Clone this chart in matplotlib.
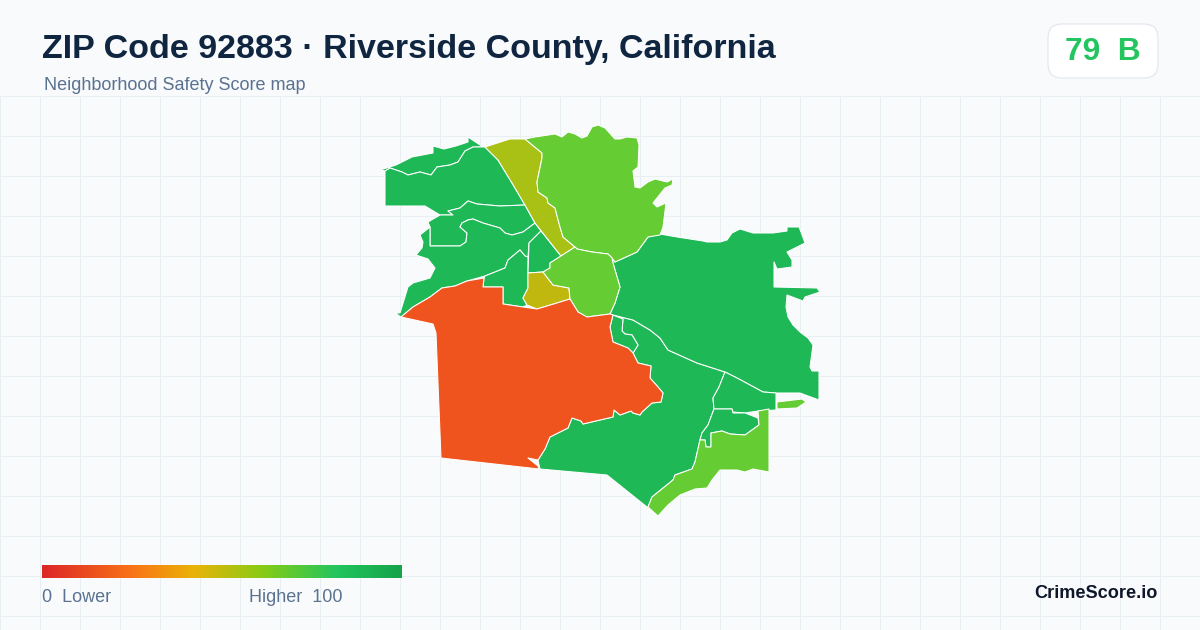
import numpy as np
import matplotlib
matplotlib.use("Agg")
import matplotlib.pyplot as plt
from matplotlib.colors import LinearSegmentedColormap
from matplotlib.patches import FancyBboxPatch

plt.rcParams['font.family'] = ['Liberation Sans', 'DejaVu Sans']

title = "ZIP Code 92883 · Riverside County, California"
subtitle = "Neighborhood Safety Score map"
score_label = "79  B"

# neighbourhood outlines
north_strip = [(380,170),(396,165),(412,157),(433,153),(433,146),(444,149),(456,146),(468,142),(468,137),(483,147),(473,147),(465,151),(458,162),(450,165),(437,167),(431,175),(420,172),(408,175),(402,172),(390,168),(385,171)]
northwest = [(385,171),(390,168),(402,172),(408,175),(420,172),(431,175),(437,167),(450,165),(458,162),(465,151),(473,147),(485,147),(498,160),(512,183),(525,205),(500,206),(477,204),(468,201),(460,208),(448,211),(453,215),(440,215),(425,206),(385,206)]
middle_band = [(525,205),(535,223),(523,232),(512,235),(505,233),(500,228),(483,223),(473,219),(468,220),(462,223),(460,227),(467,233),(466,242),(460,246),(430,246),(430,227),(428,222),(440,215),(453,215),(448,211),(460,208),(468,201),(477,204),(500,206)]
southwest = [(430,227),(430,246),(460,246),(466,242),(467,233),(460,227),(462,223),(468,220),(473,219),(483,223),(500,228),(505,233),(512,235),(523,232),(535,223),(541,231),(529,243),(528,257),(525,256),(520,250),(508,260),(505,268),(485,276),(467,281),(455,286),(442,288),(430,297),(413,307),(401,317),(395,313),(400,313),(408,287),(413,283),(430,278),(435,268),(428,259),(416,255),(422,248),(423,242),(420,235)]
notch = [(528,257),(528,273),(528,288),(523,298),(527,305),(523,307),(503,304),(503,287),(483,287),(484,278),(485,276),(505,268),(508,260),(520,250),(525,256)]
wedge = [(541,231),(561,256),(550,263),(550,268),(543,272),(528,273),(529,243)]
yellow_block = [(528,273),(543,272),(553,285),(569,288),(570,299),(557,303),(537,309),(527,305),(523,298),(528,288)]
olive_strip = [(485,147),(510,139),(525,139),(542,153),(542,158),(537,182),(538,192),(547,198),(548,203),(555,208),(560,227),(563,237),(575,247),(561,256),(535,223),(525,205),(512,183),(498,160)]
north_hills = [(525,139),(535,137),(555,134),(562,137),(568,132),(575,134),(582,138),(587,136),(592,127),(598,125),(605,128),(615,139),(620,139),(627,137),(637,138),(639,145),(638,167),(633,171),(635,187),(640,188),(648,182),(655,179),(667,182),(673,179),(672,185),(665,188),(653,203),(657,207),(666,203),(663,227),(660,235),(648,237),(637,252),(615,262),(612,258),(608,254),(592,252),(577,249),(575,247),(563,237),(560,227),(555,208),(548,203),(547,198),(538,192),(537,182),(542,158),(542,153)]
center_round = [(561,256),(575,247),(577,249),(592,252),(608,254),(612,258),(613,263),(620,287),(615,303),(610,314),(587,317),(578,312),(570,299),(569,288),(553,285),(543,272),(550,268),(550,263)]
red_zone = [(401,317),(413,307),(430,297),(442,288),(455,286),(467,281),(484,278),(483,287),(503,287),(503,304),(523,307),(537,309),(557,303),(570,299),(578,312),(587,317),(610,314),(613,315),(610,327),(613,342),(628,348),(633,353),(638,363),(651,366),(650,378),(658,387),(663,393),(661,402),(652,403),(642,412),(640,415),(633,413),(631,411),(620,415),(614,410),(613,417),(600,420),(583,424),(581,421),(572,418),(568,428),(550,437),(545,449),(538,460),(528,458),(538,466),(539,469),(441,458),(436,333),(433,324)]
south_large = [(538,460),(545,449),(550,437),(568,428),(572,418),(581,421),(583,424),(600,420),(613,417),(614,410),(620,415),(631,411),(633,413),(640,415),(642,412),(652,403),(661,402),(663,393),(658,387),(650,378),(651,366),(638,363),(633,353),(638,345),(632,335),(625,334),(622,331),(623,319),(613,315),(633,320),(650,330),(660,338),(668,350),(697,363),(725,372),(719,387),(713,398),(714,409),(708,425),(702,433),(700,440),(695,462),(692,469),(675,475),(673,480),(652,497),(648,507),(647,507),(607,475),(540,469)]
small_sliver = [(613,315),(623,319),(622,331),(625,334),(632,335),(638,345),(633,353),(628,348),(613,342),(610,327)]
northeast = [(612,258),(615,262),(637,252),(648,237),(660,234),(677,237),(703,241),(707,242),(720,242),(727,240),(732,233),(740,229),(753,233),(773,233),(787,231),(787,227),(799,227),(801,232),(805,243),(787,252),(792,260),(792,267),(777,269),(774,262),(774,287),(817,288),(820,292),(805,297),(803,301),(787,295),(786,307),(788,317),(793,325),(800,332),(808,338),(813,345),(810,367),(812,371),(819,371),(819,400),(800,393),(776,393),(763,392),(737,378),(725,372),(697,363),(668,350),(660,338),(650,330),(633,320),(613,315),(610,314),(615,303),(620,287),(613,263)]
east_mid = [(725,372),(737,378),(763,392),(776,393),(776,410),(758,411),(745,413),(733,412),(732,409),(714,409),(713,398),(719,387)]
lobe = [(714,409),(732,409),(733,413),(745,413),(758,418),(759,425),(745,435),(730,434),(722,431),(711,433),(711,447),(706,447),(705,440),(700,440),(702,433),(708,425)]
southeast = [(700,440),(705,440),(706,447),(711,447),(711,433),(722,431),(730,434),(745,435),(759,425),(758,411),(769,409),(769,472),(753,469),(745,472),(737,470),(720,470),(712,480),(707,488),(695,489),(680,495),(668,505),(658,516),(648,507),(652,497),(673,480),(675,475),(692,469),(695,462)]
east_patch = [(777,402),(802,399),(806,402),(797,408),(777,409)]

dark_green = "#1fb857"
light_green = "#66cc33"
regions = [
    (north_strip, dark_green), (northwest, dark_green), (middle_band, dark_green),
    (southwest, dark_green), (notch, dark_green), (wedge, dark_green),
    (south_large, dark_green), (small_sliver, dark_green), (northeast, dark_green),
    (east_mid, dark_green), (lobe, dark_green),
    (yellow_block, "#c0b80f"), (olive_strip, "#a9c014"),
    (north_hills, light_green), (center_round, light_green),
    (southeast, light_green), (east_patch, light_green),
    (red_zone, "#f0541e"),
]

legend_colors = ["#dc2626", "#f97316", "#eab308", "#84cc16", "#22c55e", "#16a34a"]
legend_stops = [0, 0.25, 0.42, 0.62, 0.82, 1]

fig = plt.figure(figsize=(12, 6.3), dpi=100, facecolor="#f8fafc")
ax = fig.add_axes([0, 0, 1, 1])
ax.set_xlim(0, 1200)
ax.set_ylim(630, 0)
ax.axis("off")

# background grid
for gx in range(0, 1201, 40):
    ax.plot([gx, gx], [96, 630], color="#e8eff3", lw=0.72, zorder=1)
for gy in range(96, 630, 40):
    ax.plot([0, 1200], [gy, gy], color="#e8eff3", lw=0.72, zorder=1)

for outline, col in regions:
    xs, ys = zip(*outline)
    ax.fill(xs, ys, facecolor=col, edgecolor="white", lw=0.75, joinstyle="round", zorder=3)

ax.text(42, 49.5, title, fontsize=24.5, fontweight="bold", color="#0f2540", va="center", ha="left")
ax.text(44, 86, subtitle, fontsize=12.95, color="#5a7290", va="center", ha="left")

badge = FancyBboxPatch((1048, 24), 110, 54, boxstyle="round,pad=0,rounding_size=14",
                       facecolor="white", edgecolor="#dfe5ee", lw=0.75, zorder=4)
ax.add_patch(badge)
ax.text(1103, 52, score_label, fontsize=22.8, fontweight="bold", color="#22c55e", ha="center", va="center", zorder=5)

# colour legend
cmap = LinearSegmentedColormap.from_list("score", list(zip(legend_stops, legend_colors)))
ax.imshow(np.linspace(0, 1, 360).reshape(1, -1), cmap=cmap, extent=(42, 402, 578, 565), aspect="auto", zorder=4)
ax.set_xlim(0, 1200)
ax.set_ylim(630, 0)
ax.text(42, 598, "0  Lower", fontsize=12.95, color="#5a7290", va="center", ha="left")
ax.text(249, 598, "Higher  100", fontsize=12.95, color="#5a7290", va="center", ha="left")
ax.text(1158, 594, "CrimeScore.io", fontsize=13.05, fontweight="bold", color="#0f172a", va="center", ha="right")

fig.savefig("out.png", dpi=100, facecolor=fig.get_facecolor())
